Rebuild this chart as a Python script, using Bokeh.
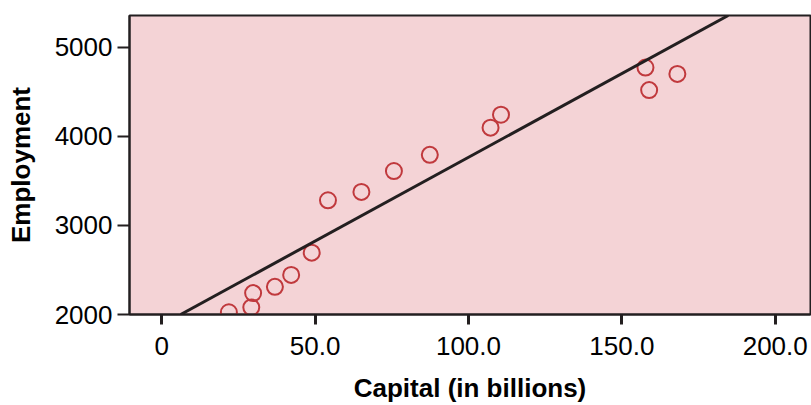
from bokeh.plotting import figure
from bokeh.models import Range1d, FixedTicker, Slope
from bokeh.embed import file_html
from bokeh.resources import INLINE

# Data
capital = [21.9, 29.2, 29.8, 36.9, 42.2, 48.9, 54.2, 65.1, 75.7, 87.4,
           107.2, 110.6, 157.7, 158.9, 168.1]
employment = [2025, 2080, 2240, 2310, 2444, 2694, 3281, 3375, 3609, 3791,
              4096, 4241, 4770, 4517, 4699]

fit_slope = 18.79
fit_intercept = 1884.0

x_ticks = [0, 50, 100, 150, 200]
x_tick_labels = ["0", "50.0", "100.0", "150.0", "200.0"]
y_ticks = [2000, 3000, 4000, 5000]
y_tick_labels = ["2000", "3000", "4000", "5000"]

FONT = "Liberation Sans"
DARK = "#231F20"

p = figure(width=811, height=405, output_backend="svg", toolbar_location=None,
           x_range=Range1d(-10.5, 211.5), y_range=Range1d(2000, 5354),
           min_border_left=129, min_border_right=1, min_border_top=15,
           min_border_bottom=89)

p.background_fill_color = "#F4D3D6"
p.border_fill_color = "white"
p.outline_line_color = DARK
p.outline_line_width = 2
p.xgrid.visible = False
p.ygrid.visible = False

p.add_layout(Slope(gradient=fit_slope, y_intercept=fit_intercept,
                   line_color=DARK, line_width=3))

p.scatter(capital, employment, marker="circle", size=16, fill_color=None,
          line_color="#C0393D", line_width=2)

xa = p.xaxis[0]
xa.ticker = FixedTicker(ticks=x_ticks)
xa.major_label_overrides = dict(zip(x_ticks, x_tick_labels))
xa.axis_label = "Capital (in billions)"
xa.major_tick_out = 10
xa.major_tick_in = 0
xa.minor_tick_out = 0
xa.minor_tick_in = 0
xa.major_label_standoff = 12
xa.axis_label_standoff = 15
xa.major_tick_line_width = 3

ya = p.yaxis[0]
ya.ticker = FixedTicker(ticks=y_ticks)
ya.major_label_overrides = dict(zip(y_ticks, y_tick_labels))
ya.axis_label = "Employment"
ya.major_tick_out = 12
ya.major_tick_in = 0
ya.minor_tick_out = 0
ya.minor_tick_in = 0
ya.major_label_standoff = 5
ya.axis_label_standoff = 16
ya.major_tick_line_width = 2

for ax in (xa, ya):
    ax.axis_line_color = DARK
    ax.axis_line_width = 2
    ax.major_tick_line_color = DARK
    ax.major_label_text_font = FONT
    ax.major_label_text_font_size = "26px"
    ax.major_label_text_color = "black"
    ax.axis_label_text_font = FONT
    ax.axis_label_text_font_size = "26px"
    ax.axis_label_text_font_style = "bold"
    ax.axis_label_text_color = "black"

open("out.html", "w").write(file_html(p, INLINE))
